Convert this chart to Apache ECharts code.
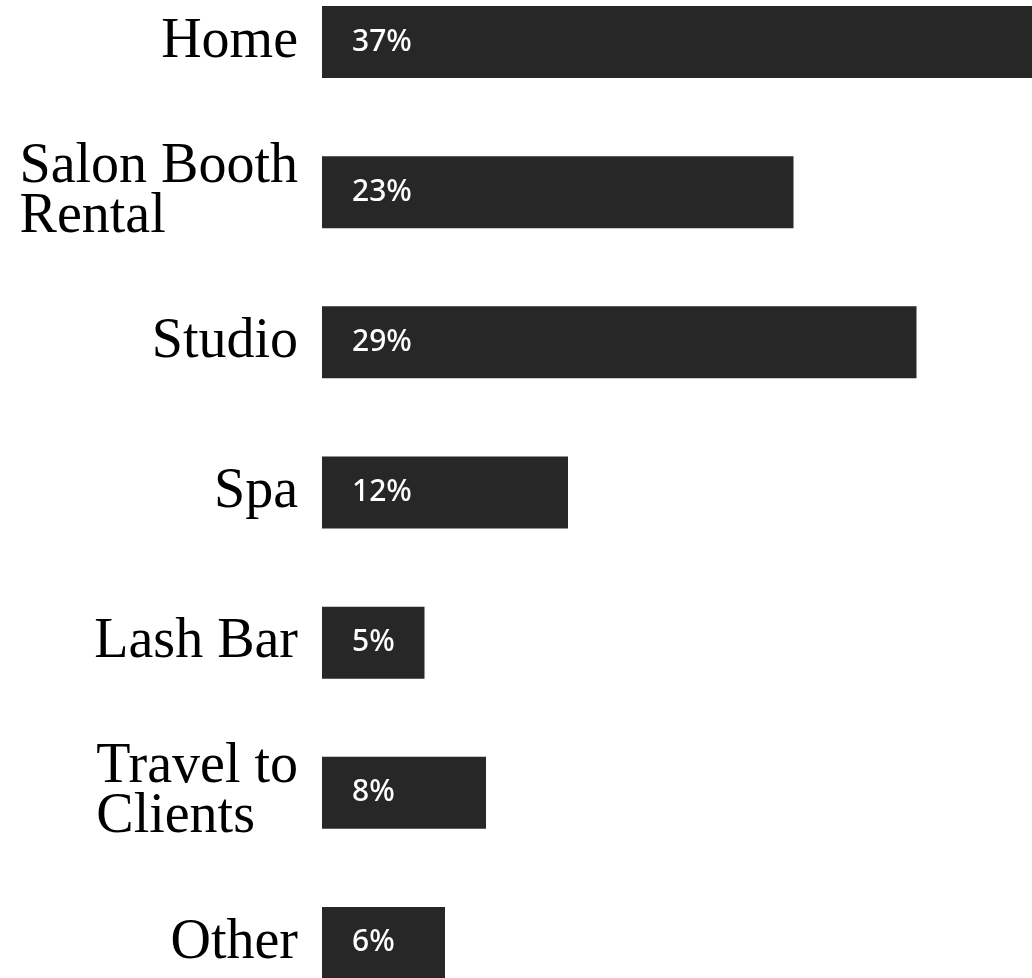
<!DOCTYPE html>
<html>
<head>
<meta charset="utf-8">
<style>
  html, body { margin: 0; padding: 0; background: #ffffff; }
  #chart { width: 1032px; height: 978px; }
</style>
<script src="https://cdn.jsdelivr.net/npm/echarts@6/dist/echarts.min.js"></script>
</head>
<body>
<div id="chart"></div>
<script>
// Where the studio is located: share of respondents (%)
const categories = ['Home', 'Salon Booth\nRental', 'Studio', 'Spa', 'Lash Bar', 'Travel to\nClients', 'Other'];
const shares = [37, 23, 29, 12, 5, 8, 6];

const chart = echarts.init(document.getElementById('chart'), null, { renderer: 'canvas' });

// Multi-line names: the block sits right against the bars, its lines flush left
const wrapLines = name => name.split('\n').map(line => '{n|' + line + '}').join('\n');

chart.setOption({
  animation: false,
  backgroundColor: '#ffffff',
  grid: {
    left: 322,
    top: -33,
    width: 1025,
    height: 1051,
    containLabel: false,
    outerBoundsMode: 'none'
  },
  xAxis: {
    type: 'value',
    min: 0,
    max: 50,
    show: false
  },
  yAxis: {
    type: 'category',
    inverse: true,
    data: categories,
    axisLine: { show: false },
    axisTick: { show: false },
    splitLine: { show: false },
    axisLabel: {
      margin: 24,
      align: 'right',
      formatter: wrapLines,
      rich: {
        n: {
          color: '#000000',
          fontFamily: '"Liberation Serif", "DejaVu Serif", serif',
          fontSize: 56,
          lineHeight: 50,
          align: 'left'
        }
      }
    }
  },
  series: [{
    type: 'bar',
    data: shares,
    barWidth: 72,
    itemStyle: { color: '#272727' },
    label: {
      show: true,
      position: 'insideLeft',
      distance: 30,
      formatter: '{c}%',
      color: '#ffffff',
      fontFamily: '"Noto Sans", "Open Sans", sans-serif',
      fontWeight: 500,
      fontSize: 30
    }
  }]
});
</script>
</body>
</html>
